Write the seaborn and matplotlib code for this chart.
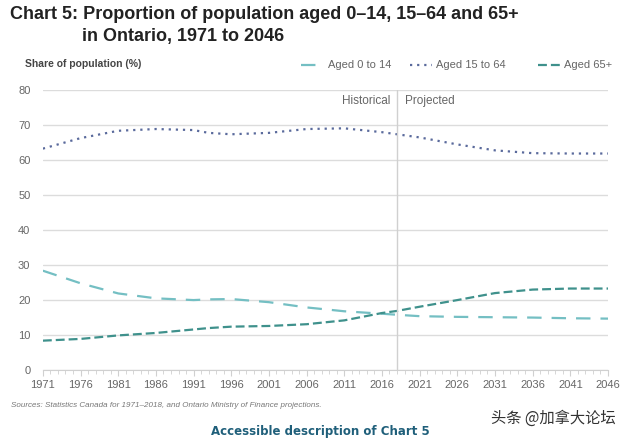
import matplotlib
matplotlib.use('Agg')
import numpy as np
import pandas as pd
import seaborn as sns
import matplotlib.pyplot as plt
from matplotlib.ticker import MultipleLocator

# values
years = [1971, 1976, 1981, 1986, 1991, 1993, 1996, 2001, 2006, 2011,
         2016, 2018, 2021, 2026, 2031, 2036, 2041, 2046]
aged_0_14 = [28.4, 24.8, 21.9, 20.5, 20.0, 20.2, 20.3, 19.4, 17.9, 16.8,
             16.1, 15.8, 15.4, 15.2, 15.1, 15.0, 14.8, 14.7]
aged_15_64 = [63.3, 66.3, 68.4, 68.9, 68.6, 67.8, 67.4, 67.8, 68.9, 69.1,
              68.0, 67.4, 66.5, 64.5, 62.8, 62.0, 61.9, 61.9]
aged_65 = [8.4, 8.9, 9.9, 10.6, 11.6, 12.0, 12.4, 12.6, 13.1, 14.2,
           16.3, 16.9, 18.1, 20.0, 22.0, 23.0, 23.3, 23.3]
tick_years = list(range(1971, 2047, 5))
split_year = 2018

series = ['Aged 0 to 14', 'Aged 15 to 64', 'Aged 65+']
colors = ['#74bfc3', '#5a6a9c', '#3f918c']
dashes = [(6.5, 4.5), (1, 2.2), (4, 1.8)]

df = pd.DataFrame({'Year': years, series[0]: aged_0_14,
                   series[1]: aged_15_64, series[2]: aged_65})
long_df = df.melt(id_vars='Year', var_name='Group', value_name='Share')

sns.set_style('white')
plt.rcParams['font.family'] = ['Liberation Sans', 'DejaVu Sans']

fig = plt.figure(figsize=(6.4, 4.4), dpi=100)
ax = fig.add_axes([0.067, 0.159, 0.883, 0.636])

sns.lineplot(data=long_df, x='Year', y='Share', hue='Group', style='Group',
             palette=dict(zip(series, colors)), dashes=dict(zip(series, dashes)),
             linewidth=1.6, ax=ax, legend=False)

ax.set_xlim(1971, 2046)
ax.set_ylim(0, 80)
ax.set_yticks(range(0, 81, 10))
ax.set_xticks(tick_years)
ax.xaxis.set_minor_locator(MultipleLocator(1))
ax.grid(axis='y', color='#dcdcdc', linewidth=1)
ax.set_axisbelow(True)
for s in ['top', 'right', 'left']:
    ax.spines[s].set_visible(False)
ax.spines['bottom'].set_color('#d0d0d0')
ax.tick_params(axis='x', which='both', bottom=True, colors='#d0d0d0',
               labelcolor='#666666', labelsize=8, length=4, pad=3)
ax.tick_params(axis='x', which='minor', length=3)
ax.tick_params(axis='y', labelcolor='#666666', labelsize=8, length=0, pad=9)
ax.set_xlabel('')
ax.set_ylabel('')

ax.axvline(split_year, ymin=0, ymax=1, color='#d0d0d0', linewidth=1)
ax.text(split_year - 0.9, 77, 'Historical', ha='right', va='center',
        fontsize=8.5, color='#666666')
ax.text(split_year + 1.1, 77, 'Projected', ha='left', va='center',
        fontsize=8.5, color='#666666')

# title and header texts
fig.text(0.016, 0.968, 'Chart 5: Proportion of population aged 0\u201314, 15\u201364 and 65+',
         fontsize=13, fontweight='bold', color='#222222', va='center')
fig.text(0.128, 0.918, 'in Ontario, 1971 to 2046',
         fontsize=13, fontweight='bold', color='#222222', va='center')
fig.text(0.039, 0.855, 'Share of population (%)', fontsize=7.5, fontweight='bold',
         color='#444444', va='center')

# legend drawn by hand at top right
leg_x = [0.47, 0.64, 0.84]
for name, col, dsh, lx in zip(series, colors, dashes, leg_x):
    ln = matplotlib.lines.Line2D([lx, lx + 0.035], [0.852, 0.852], color=col,
                                 linewidth=1.6, dashes=dsh, transform=fig.transFigure)
    fig.add_artist(ln)
    fig.text(lx + 0.042, 0.852, name, fontsize=8, color='#666666', va='center')

fig.text(0.017, 0.079, 'Sources: Statistics Canada for 1971\u20132018, and Ontario Ministry of Finance projections.',
         fontsize=5.8, style='italic', color='#777777', va='center')
fig.text(0.5, 0.02, 'Accessible description of Chart 5', fontsize=8.5,
         fontweight='bold', color='#1f5f7a', ha='center', va='center',
         family=['DejaVu Sans'])
fig.text(0.962, 0.05, '头条 @加拿大论坛', fontsize=11, color='#333333',
         ha='right', va='center', family=['Noto Sans CJK SC', 'DejaVu Sans'])

fig.savefig('out.png', dpi=100)
